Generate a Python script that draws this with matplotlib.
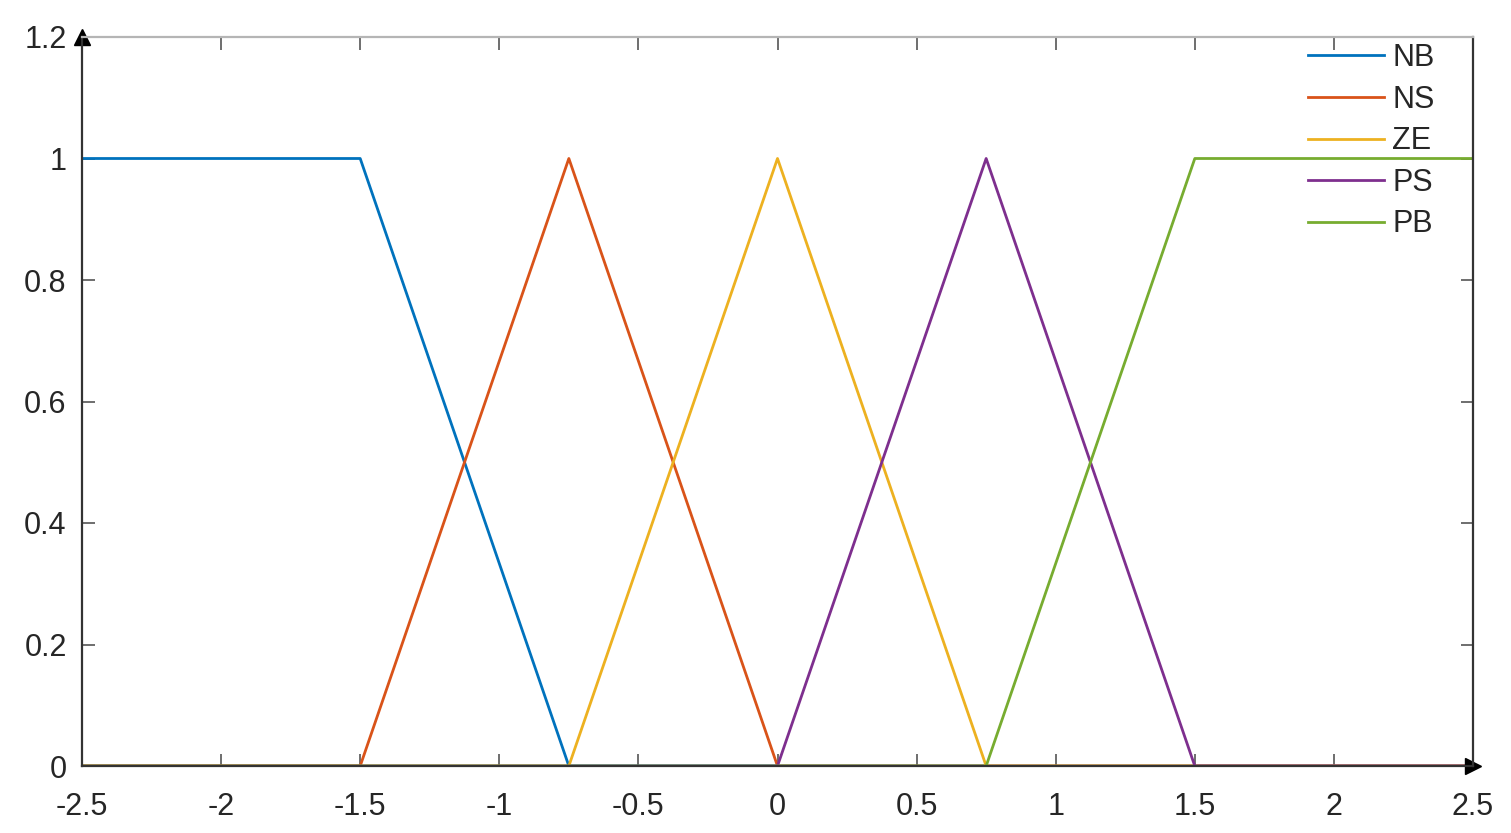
import matplotlib
matplotlib.use("Agg")
import matplotlib.pyplot as plt

plt.rcParams['font.family'] = ['Liberation Sans', 'DejaVu Sans']

# Membership function breakpoints
x_nb = [-2.5, -1.5, -0.75, 2.5]
y_nb = [1, 1, 0, 0]
x_ns = [-2.5, -1.5, -0.75, 0, 2.5]
y_ns = [0, 0, 1, 0, 0]
x_ze = [-2.5, -0.75, 0, 0.75, 2.5]
y_ze = [0, 0, 1, 0, 0]
x_ps = [-2.5, 0, 0.75, 1.5, 2.5]
y_ps = [0, 0, 1, 0, 0]
x_pb = [-2.5, 0.75, 1.5, 2.5]
y_pb = [0, 0, 1, 1]

labels = ['NB', 'NS', 'ZE', 'PS', 'PB']
colors = ['#0072BD', '#D95319', '#EDB120', '#7E2F8E', '#77AC30']
xticks = [-2.5, -2, -1.5, -1, -0.5, 0, 0.5, 1, 1.5, 2, 2.5]
xticklabels = ['-2.5', '-2', '-1.5', '-1', '-0.5', '0', '0.5', '1', '1.5', '2', '2.5']
yticks = [0, 0.2, 0.4, 0.6, 0.8, 1, 1.2]
yticklabels = ['0', '0.2', '0.4', '0.6', '0.8', '1', '1.2']

fig = plt.figure(figsize=(15.11, 8.33), dpi=100)
ax = fig.add_axes([82/1511, 1-766/833, (1473-82)/1511, (766-37)/833])

series = [(x_nb, y_nb), (x_ns, y_ns), (x_ze, y_ze), (x_ps, y_ps), (x_pb, y_pb)]
for (xs, ys), lab, c in zip(series, labels, colors):
    ax.plot(xs, ys, color=c, lw=2.0, label=lab)

ax.set_xlim(-2.5, 2.5)
ax.set_ylim(0, 1.2)
ax.set_xticks(xticks)
ax.set_xticklabels(xticklabels)
ax.set_yticks(yticks)
ax.set_yticklabels(yticklabels)
ax.tick_params(direction='in', length=9, width=1.2, labelsize=22, color='#555555',
               labelcolor='#262626', top=True, right=True)
ax.tick_params(axis='x', pad=19)
ax.tick_params(axis='y', pad=11)

for side in ['left', 'bottom', 'right']:
    ax.spines[side].set_color('#333333')
    ax.spines[side].set_linewidth(1.6)
ax.spines['top'].set_color('#b5b5b5')
ax.spines['top'].set_linewidth(1.6)

# arrows at the axis ends
ax.plot([0], [1], marker='^', color='black', markersize=12, transform=ax.transAxes, clip_on=False)
ax.plot([1], [0], marker='>', color='black', markersize=12, transform=ax.transAxes, clip_on=False)

leg = ax.legend(loc='upper left', bbox_to_anchor=(1308/1511, 1-43/833),
                bbox_transform=fig.transFigure, frameon=False, fontsize=22,
                handlelength=2.5, handletextpad=0.25, labelspacing=0.38,
                borderpad=0, borderaxespad=0)
for t in leg.get_texts():
    t.set_color('#262626')

fig.savefig('out.png', dpi=100)
